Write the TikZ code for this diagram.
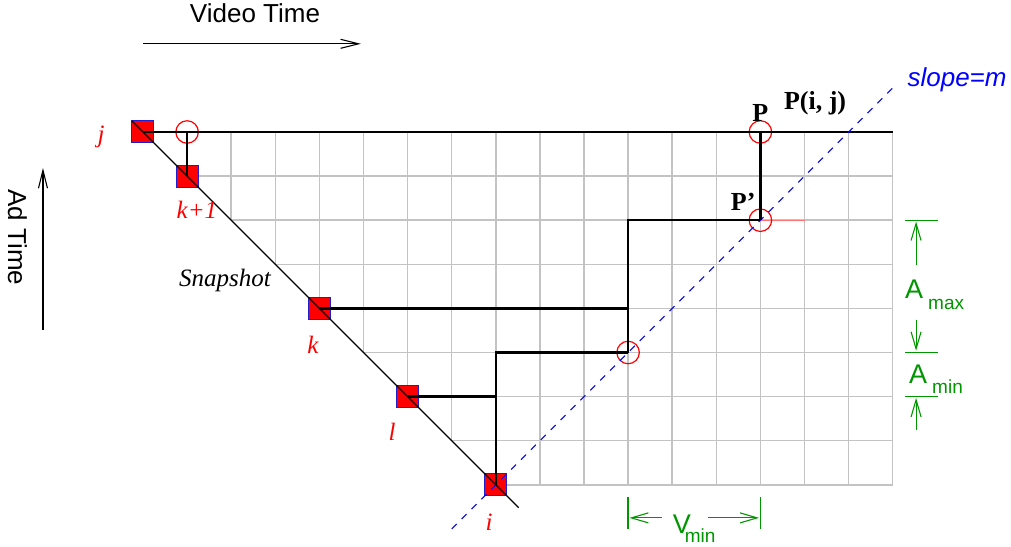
\documentclass[tikz,border=0pt]{standalone}
\usepackage{fontspec}
\setmainfont{Liberation Serif}
\setsansfont{Liberation Sans}
\usetikzlibrary{arrows.meta}
\definecolor{mygreen}{RGB}{0,150,0}
\definecolor{gridgray}{RGB}{195,195,195}
\definecolor{sqblue}{RGB}{30,30,210}
\newcommand{\subtxt}[2]{\raisebox{-#1}{\fontsize{19}{22}\selectfont #2}}
\tikzset{
  gridline/.style={draw=gridgray, line width=1.5pt},
  conn/.style={draw=black, line width=2.6pt},
  thinline/.style={draw=black, line width=1.2pt},
  sq/.style={draw=sqblue, fill=red, line width=1pt, minimum size=22pt, inner sep=0pt, outer sep=0pt},
  ring/.style={circle, draw=red, line width=1.2pt, minimum size=22.5pt, inner sep=0pt, outer sep=0pt},
  redlab/.style={text=red, font=\fontsize{25}{28}\selectfont\itshape, inner sep=0pt},
  boldlab/.style={text=black, font=\fontsize{26}{30}\selectfont\bfseries, inner sep=0pt},
  sanslab/.style={font=\fontsize{26}{30}\selectfont\sffamily, inner sep=0pt},
  glab/.style={text=mygreen, font=\fontsize{27}{30}\selectfont\sffamily, inner sep=0pt, anchor=base west},
  garrow/.style={draw=mygreen, line width=1.1pt, -{Straight Barb[length=17pt,width=10pt,line width=1.1pt]}},
  gtick/.style={draw=mygreen, line width=1.3pt},
  barrow/.style={draw=black, line width=1.1pt, -{Straight Barb[length=18pt,width=9pt,line width=1.1pt]}},
}
\begin{document}
\begin{tikzpicture}[x=44.1pt, y=-44.1pt]
\useasboundingbox (-3.2426,-2.9932) rectangle (19.6825,9.3878);
% grid
\foreach \n in {1,...,17} \draw[gridline] (\n,0) -- (\n,{min(\n,8)});
\foreach \m in {1,...,8} \draw[gridline] (\m,\m) -- (17,\m);
% faint red segment
\coordinate (fr1) at (14,2);
\coordinate (fr2) at (15,2);
\draw[draw=red!55, line width=1.3pt] (fr1) -- (fr2);
% squares
\node[sq] (sj) at (0,0) {};
\node[sq] (sk1) at (1,1) {};
\node[sq] (sk) at (4,4) {};
\node[sq] (sl) at (6,6) {};
\node[sq] (si) at (8,8) {};
% circles
\node[ring] (c1) at (1,0) {};
\node[ring] (c2) at (14,0) {};
\node[ring] (c3) at (14,2) {};
\node[ring] (c4) at (11,5) {};
% top line and diagonal
\coordinate (tend) at (17,0);
\draw[conn] (sj.center) -- (tend);
\coordinate (dstart) at (-0.25,-0.25);
\coordinate (dend) at (8.52,8.52);
\draw[thinline] (dstart) -- (dend);
% slope line
\coordinate (s1) at (7,9);
\coordinate (s2) at (17,-1);
\draw[draw=blue, line width=1.1pt, dash pattern=on 7pt off 7pt] (s1) -- (s2);
% connectors
\draw[conn] (sk1.center) -- (c1.center);
\draw[conn] (sk.center) -- (sk.center -| c4.center);
\draw[conn] (sl.center) -- (sl.center -| si.center);
\draw[conn] (si.center) |- (c4.center);
\draw[conn] (c4.center) |- (c3.center);
\draw[conn] (c3.center) -- (c2.center);
% labels
\node[redlab] (lj) at (-0.95,0.10) {j};
\node[redlab] (lk1) at (1.224,1.769) {k+1};
\node[text=black, font=\fontsize{25}{28}\selectfont\itshape, inner sep=0pt] (snap) at (1.859,3.356) {Snapshot};
\node[redlab] (lk) at (3.855,4.83) {k};
\node[redlab] (ll) at (5.646,6.80) {l};
\node[redlab] (li) at (7.846,8.85) {i};
\node[boldlab] (lP) at (14.0,-0.43) {P};
\node[boldlab] (lPij) at (15.24,-0.66) {P(i, j)};
\node[boldlab] (lPp) at (13.61,1.59) {P'};
\node[text=blue, font=\fontsize{26}{30}\selectfont\sffamily\itshape, inner sep=0pt] (slope) at (18.46,-1.18) {slope=m};
% video time / ad time
\node[sanslab] (vt) at (2.54,-2.70) {Video Time};
\coordinate (va1) at (0,-2);
\coordinate (va2) at (4.94,-2);
\draw[barrow] (va1) -- (va2);
\node[sanslab, rotate=-90] (at) at (-2.846,2.392) {Ad Time};
\coordinate (aa1) at (-2.268,4.49);
\coordinate (aa2) at (-2.268,0.816);
\draw[barrow] (aa1) -- (aa2);
% A max / A min
\coordinate (t1a) at (17.28,2); \coordinate (t1b) at (18.03,2);
\coordinate (t2a) at (17.28,5); \coordinate (t2b) at (18.03,5);
\coordinate (t3a) at (17.28,6); \coordinate (t3b) at (18.03,6);
\draw[gtick] (t1a) -- (t1b);
\draw[gtick] (t2a) -- (t2b);
\draw[gtick] (t3a) -- (t3b);
\coordinate (ga1) at (17.53,3.02); \coordinate (ga2) at (17.53,2.03);
\coordinate (ga3) at (17.53,4.26); \coordinate (ga4) at (17.53,4.96);
\coordinate (ga5) at (17.53,6.76); \coordinate (ga6) at (17.53,6.03);
\draw[garrow] (ga1) -- (ga2);
\draw[garrow] (ga3) -- (ga4);
\draw[garrow] (ga5) -- (ga6);
\node[glab] (Amax) at (17.279,3.771) {A\kern5pt\subtxt{11pt}{max}};
\node[glab] (Amin) at (17.370,5.698) {A\kern5pt\subtxt{10pt}{min}};
% V min
\coordinate (v1a) at (11,8.28); \coordinate (v1b) at (11,9.0);
\coordinate (v2a) at (14,8.28); \coordinate (v2b) at (14,9.0);
\draw[gtick] (v1a) -- (v1b);
\draw[gtick] (v2a) -- (v2b);
\coordinate (vl1) at (11.76,8.75); \coordinate (vl2) at (11.03,8.75);
\coordinate (vr1) at (12.81,8.75); \coordinate (vr2) at (13.97,8.75);
\draw[garrow] (vl1) -- (vl2);
\draw[garrow] (vr1) -- (vr2);
\node[glab] (Vmin) at (12.011,9.100) {V\kern-6pt\subtxt{9pt}{min}};
\end{tikzpicture}
\end{document}
